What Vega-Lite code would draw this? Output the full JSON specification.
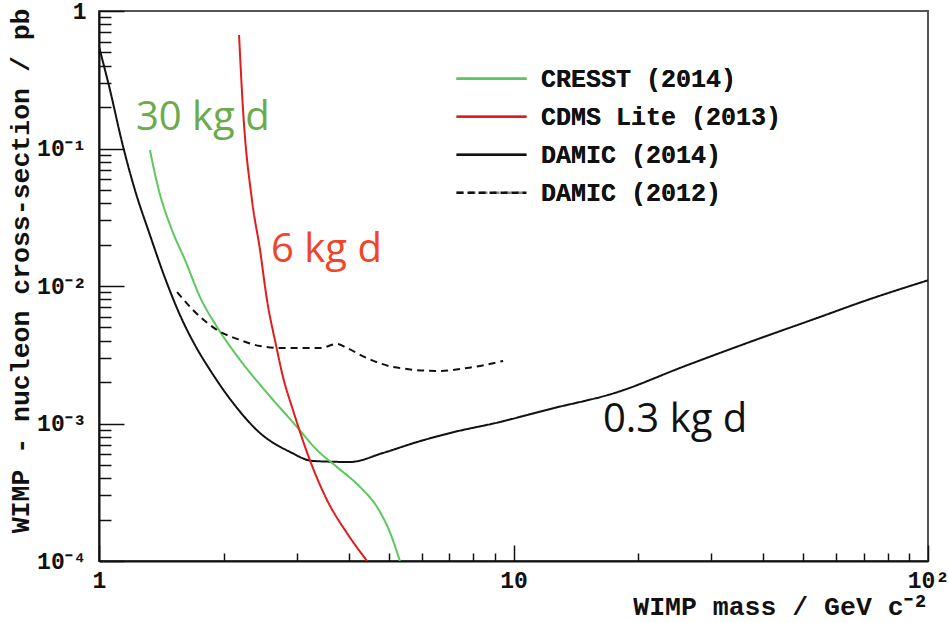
{
  "$schema": "https://vega.github.io/schema/vega-lite/v6.json",
  "width": 829,
  "height": 550,
  "autosize": {"type": "none"},
  "padding": {"left": 99, "top": 11, "right": 21, "bottom": 62},
  "background": "white",
  "config": {
    "view": {"stroke": "#555555", "strokeWidth": 2},
    "axis": {
      "labelFont": "Liberation Mono", "labelFontWeight": "bold", "labelColor": "#111",
      "titleFont": "Liberation Mono", "titleFontWeight": "bold", "titleColor": "#111",
      "domainColor": "#111", "domainWidth": 2, "tickColor": "#111", "tickWidth": 1.5, "grid": false
    },
    "legend": {"labelFont": "Liberation Mono", "labelFontWeight": "bold"}
  },
  "datasets": {
    "curves": [
      {"series": "DAMIC (2014)", "mass": 1.0, "xsec": 0.55},
      {"series": "DAMIC (2014)", "mass": 1.063, "xsec": 0.2664},
      {"series": "DAMIC (2014)", "mass": 1.136, "xsec": 0.1115},
      {"series": "DAMIC (2014)", "mass": 1.221, "xsec": 0.0499},
      {"series": "DAMIC (2014)", "mass": 1.327, "xsec": 0.0235},
      {"series": "DAMIC (2014)", "mass": 1.443, "xsec": 0.01143},
      {"series": "DAMIC (2014)", "mass": 1.568, "xsec": 0.00615},
      {"series": "DAMIC (2014)", "mass": 1.704, "xsec": 0.00372},
      {"series": "DAMIC (2014)", "mass": 1.853, "xsec": 0.00245},
      {"series": "DAMIC (2014)", "mass": 2.106, "xsec": 0.00141},
      {"series": "DAMIC (2014)", "mass": 2.446, "xsec": 0.000853},
      {"series": "DAMIC (2014)", "mass": 2.89, "xsec": 0.000621},
      {"series": "DAMIC (2014)", "mass": 3.28, "xsec": 0.000534},
      {"series": "DAMIC (2014)", "mass": 4.03, "xsec": 0.000525},
      {"series": "DAMIC (2014)", "mass": 4.84, "xsec": 0.00061},
      {"series": "DAMIC (2014)", "mass": 5.85, "xsec": 0.000733},
      {"series": "DAMIC (2014)", "mass": 7.03, "xsec": 0.000853},
      {"series": "DAMIC (2014)", "mass": 9.28, "xsec": 0.001026},
      {"series": "DAMIC (2014)", "mass": 12.2, "xsec": 0.00127},
      {"series": "DAMIC (2014)", "mass": 17.8, "xsec": 0.00169},
      {"series": "DAMIC (2014)", "mass": 25.6, "xsec": 0.00258},
      {"series": "DAMIC (2014)", "mass": 37.2, "xsec": 0.00392},
      {"series": "DAMIC (2014)", "mass": 54.0, "xsec": 0.00585},
      {"series": "DAMIC (2014)", "mass": 71.3, "xsec": 0.0079},
      {"series": "DAMIC (2014)", "mass": 100, "xsec": 0.011},

      {"series": "CRESST (2014)", "mass": 1.327, "xsec": 0.0975},
      {"series": "CRESST (2014)", "mass": 1.388, "xsec": 0.0525},
      {"series": "CRESST (2014)", "mass": 1.5, "xsec": 0.0255},
      {"series": "CRESST (2014)", "mass": 1.613, "xsec": 0.01545},
      {"series": "CRESST (2014)", "mass": 1.753, "xsec": 0.0083},
      {"series": "CRESST (2014)", "mass": 1.927, "xsec": 0.00503},
      {"series": "CRESST (2014)", "mass": 2.189, "xsec": 0.0029},
      {"series": "CRESST (2014)", "mass": 2.543, "xsec": 0.00167},
      {"series": "CRESST (2014)", "mass": 3.004, "xsec": 0.000943},
      {"series": "CRESST (2014)", "mass": 3.357, "xsec": 0.000641},
      {"series": "CRESST (2014)", "mass": 3.75, "xsec": 0.000483},
      {"series": "CRESST (2014)", "mass": 4.265, "xsec": 0.000345},
      {"series": "CRESST (2014)", "mass": 4.686, "xsec": 0.000247},
      {"series": "CRESST (2014)", "mass": 5.04, "xsec": 0.00016},
      {"series": "CRESST (2014)", "mass": 5.32, "xsec": 0.0001},

      {"series": "CDMS Lite (2013)", "mass": 2.177, "xsec": 0.669},
      {"series": "CDMS Lite (2013)", "mass": 2.226, "xsec": 0.1905},
      {"series": "CDMS Lite (2013)", "mass": 2.339, "xsec": 0.0422},
      {"series": "CDMS Lite (2013)", "mass": 2.446, "xsec": 0.0183},
      {"series": "CDMS Lite (2013)", "mass": 2.543, "xsec": 0.0079},
      {"series": "CDMS Lite (2013)", "mass": 2.673, "xsec": 0.00372},
      {"series": "CDMS Lite (2013)", "mass": 2.779, "xsec": 0.00218},
      {"series": "CDMS Lite (2013)", "mass": 2.938, "xsec": 0.00125},
      {"series": "CDMS Lite (2013)", "mass": 3.193, "xsec": 0.00059},
      {"series": "CDMS Lite (2013)", "mass": 3.548, "xsec": 0.000278},
      {"series": "CDMS Lite (2013)", "mass": 3.963, "xsec": 0.00016},
      {"series": "CDMS Lite (2013)", "mass": 4.433, "xsec": 0.0001},

      {"series": "DAMIC (2012)", "mass": 1.543, "xsec": 0.00904},
      {"series": "DAMIC (2012)", "mass": 1.686, "xsec": 0.00669},
      {"series": "DAMIC (2012)", "mass": 1.927, "xsec": 0.00479},
      {"series": "DAMIC (2012)", "mass": 2.189, "xsec": 0.00405},
      {"series": "DAMIC (2012)", "mass": 2.446, "xsec": 0.00366},
      {"series": "DAMIC (2012)", "mass": 2.779, "xsec": 0.00354},
      {"series": "DAMIC (2012)", "mass": 3.414, "xsec": 0.00354},
      {"series": "DAMIC (2012)", "mass": 3.752, "xsec": 0.00379},
      {"series": "DAMIC (2012)", "mass": 3.963, "xsec": 0.00354},
      {"series": "DAMIC (2012)", "mass": 4.433, "xsec": 0.00299},
      {"series": "DAMIC (2012)", "mass": 5.12, "xsec": 0.00258},
      {"series": "DAMIC (2012)", "mass": 6.54, "xsec": 0.00241},
      {"series": "DAMIC (2012)", "mass": 7.72, "xsec": 0.00253},
      {"series": "DAMIC (2012)", "mass": 9.44, "xsec": 0.00285}
    ],
    "notes": [
      {"label": "30 kg d", "mass": 1.228, "xsec": 0.1364},
      {"label": "6 kg d", "mass": 2.6, "xsec": 0.01495},
      {"label": "0.3 kg d", "mass": 16.44, "xsec": 0.000867}
    ]
  },
  "layer": [
    {
      "data": {"name": "curves"},
      "mark": {"type": "line", "strokeWidth": 2, "clip": true, "interpolate": "monotone"},
      "encoding": {
        "x": {
          "field": "mass", "type": "quantitative",
          "scale": {"type": "log", "domain": [1, 100], "nice": false},
          "axis": {
            "title": "WIMP mass / GeV c⁻²",
            "titleFontSize": 26.5,
            "titleAnchor": "end",
            "titleAlign": "right",
            "titleBaseline": "alphabetic",
            "titleX": 829,
            "titleY": 53,
            "values": [1,2,3,4,5,6,7,8,9,10,20,30,40,50,60,70,80,90,100],
            "labelExpr": "datum.value == 1 ? '1' : datum.value == 10 ? '10' : datum.value == 100 ? '10²' : ''",
            "labelFontSize": 23,
            "labelPadding": 24,
            "labelFlush": false,
            "labelOverlap": false,
            "tickSize": {"condition": {"test": "indexof([1,10,100], datum.value) >= 0", "value": -16}, "value": -8}
          }
        },
        "y": {
          "field": "xsec", "type": "quantitative",
          "scale": {"type": "log", "domain": [0.0001, 1], "nice": false},
          "axis": {
            "title": "WIMP - nucleon cross-section / pb",
            "titleFontSize": 26.5,
            "titleAngle": -90,
            "titleAlign": "right",
            "titleBaseline": "middle",
            "titleX": -79,
            "titleY": -3,
            "values": [0.0001,0.0002,0.0003,0.0004,0.0005,0.0006,0.0007,0.0008,0.0009,0.001,0.002,0.003,0.004,0.005,0.006,0.007,0.008,0.009,0.01,0.02,0.03,0.04,0.05,0.06,0.07,0.08,0.09,0.1,0.2,0.3,0.4,0.5,0.6,0.7,0.8,0.9,1],
            "labelExpr": "datum.value == 1 ? '1' : datum.value == 0.1 ? '10⁻¹' : datum.value == 0.01 ? '10⁻²' : datum.value == 0.001 ? '10⁻³' : datum.value == 0.0001 ? '10⁻⁴' : ''",
            "labelFontSize": 23,
            "labelPadding": 38,
            "labelFlush": false,
            "labelOverlap": false,
            "tickSize": {"condition": {"test": "indexof([1,0.1,0.01,0.001,0.0001], datum.value) >= 0", "value": -25}, "value": -12}
          }
        },
        "color": {
          "field": "series", "type": "nominal",
          "scale": {
            "domain": ["CRESST (2014)", "CDMS Lite (2013)", "DAMIC (2014)", "DAMIC (2012)"],
            "range": ["#5cc85c", "#e01c1c", "#111111", "#111111"]
          },
          "legend": {
            "title": null,
            "orient": "none",
            "legendX": 356,
            "legendY": 49,
            "padding": 0,
            "symbolType": "stroke",
            "symbolSize": 4900,
            "symbolStrokeWidth": 2.5,
            "labelFontSize": 25,
            "labelColor": "#111",
            "labelOffset": 13,
            "labelLimit": 0,
            "clipHeight": 37.5,
            "rowPadding": 0,
            "encode": {"symbols": {"update": {"strokeDash": {"signal": "datum.value === 'DAMIC (2012)' ? [7, 4] : [1, 0]"}}}}
          }
        },
        "strokeDash": {
          "field": "series", "type": "nominal",
          "scale": {
            "domain": ["CRESST (2014)", "CDMS Lite (2013)", "DAMIC (2014)", "DAMIC (2012)"],
            "range": [[1, 0], [1, 0], [1, 0], [7, 5]]
          },
          "legend": {
            "title": null,
            "orient": "none",
            "legendX": 356,
            "legendY": 49,
            "padding": 0,
            "symbolType": "stroke",
            "symbolSize": 4900,
            "symbolStrokeWidth": 2.5,
            "labelFontSize": 25,
            "labelColor": "#111",
            "labelOffset": 13,
            "labelLimit": 0,
            "clipHeight": 37.5,
            "rowPadding": 0,
            "encode": {"symbols": {"update": {"strokeDash": {"signal": "datum.value === 'DAMIC (2012)' ? [7, 4] : [1, 0]"}}}}
          }
        }
      }
    },
    {
      "data": {"name": "notes"},
      "mark": {"type": "text", "font": "Open Sans", "fontSize": 40, "align": "left", "baseline": "alphabetic"},
      "encoding": {
        "x": {"field": "mass", "type": "quantitative"},
        "y": {"field": "xsec", "type": "quantitative"},
        "text": {"field": "label"},
        "color": {
          "field": "label", "type": "nominal",
          "scale": {"domain": ["30 kg d", "6 kg d", "0.3 kg d"], "range": ["#6aab4c", "#f0452a", "#111111"]},
          "legend": null
        }
      }
    }
  ],
  "resolve": {"scale": {"color": "independent"}}
}
